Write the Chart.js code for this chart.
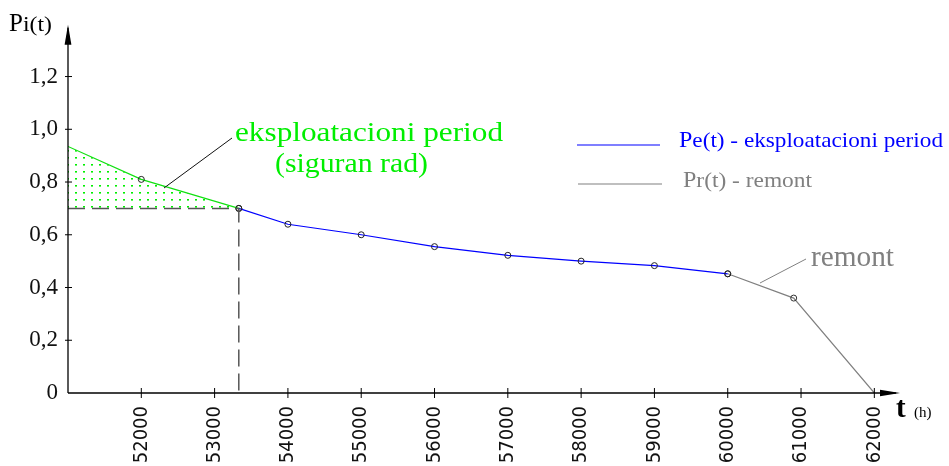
<!doctype html>
<html>

<head>
    <title>Pi(t)</title>
    <script src="https://cdn.jsdelivr.net/npm/chart.js"></script>
    <style>
        body { margin: 0; background: #fff; }
    </style>
</head>

<body>
    <canvas id="grafik" width="949" height="466"></canvas>

    <script>
        // vrijednosti ocitane sa slike
        const xTicks = [52000, 53000, 54000, 55000, 56000, 57000, 58000, 59000, 60000, 61000, 62000]
        const yTicks = [0, 0.2, 0.4, 0.6, 0.8, 1.0, 1.2]
        const yTickLabels = ['0', '0,2', '0,4', '0,6', '0,8', '1,0', '1,2']

        // eksploatacioni period (siguran rad)
        const sigurnoT = [51000, 52000, 53330]
        const sigurnoP = [0.935, 0.81, 0.70]

        // Pe(t) - eksploatacioni period
        const eksT = [53330, 54000, 55000, 56000, 57000, 58000, 59000, 60000]
        const eksP = [0.70, 0.64, 0.60, 0.555, 0.522, 0.50, 0.483, 0.452]

        // Pr(t) - remont
        const remT = [60000, 60900, 62000]
        const remP = [0.452, 0.36, 0]

        // granica sigurnog rada
        const granicaT = [51000, 53330, 53330]
        const granicaP = [0.70, 0.70, 0]

        const serif = "'Liberation Serif', 'Times New Roman', serif"

        function tacke(t, p) {
            return t.map((v, i) => ({ x: v, y: p[i] }))
        }

        // tackasta zelena ispuna
        const sablon = document.createElement('canvas')
        sablon.width = 8
        sablon.height = 7
        const sctx = sablon.getContext('2d')
        sctx.fillStyle = '#00f000'
        sctx.fillRect(3, 3, 2, 1.6)
        const zelenaIspuna = sctx.createPattern(sablon, 'repeat')

        // tekst razvucen na zadanu sirinu (kao u CAD crtezu)
        function tekst(ctx, s, x, y, size, color, width, bold) {
            ctx.save()
            ctx.font = (bold ? 'bold ' : '') + size + 'px ' + serif
            ctx.fillStyle = color
            ctx.textAlign = 'left'
            ctx.textBaseline = 'alphabetic'
            const w = ctx.measureText(s).width
            const sx = width ? width / w : 1
            ctx.translate(x, y)
            ctx.scale(sx, 1)
            ctx.fillText(s, 0, 0)
            ctx.restore()
            return w * sx
        }

        function linija(ctx, x1, y1, x2, y2, color, w) {
            ctx.beginPath()
            ctx.moveTo(x1, y1)
            ctx.lineTo(x2, y2)
            ctx.strokeStyle = color
            ctx.lineWidth = w
            ctx.stroke()
        }

        const osePlugin = {
            id: 'osePlugin',
            afterDatasetsDraw(chart) {
                const { ctx, chartArea: { top, bottom, left, right }, scales: { x, y } } = chart
                ctx.save()

                // ose
                linija(ctx, left, bottom, right - 4, bottom, '#000', 1.3)
                linija(ctx, left, bottom, left, top + 4, '#000', 1.3)

                // strelice
                ctx.fillStyle = '#000'
                ctx.beginPath()
                ctx.moveTo(right, bottom)
                ctx.lineTo(right - 20, bottom - 3.2)
                ctx.lineTo(right - 20, bottom + 3.2)
                ctx.closePath()
                ctx.fill()
                ctx.beginPath()
                ctx.moveTo(left, top + 1)
                ctx.lineTo(left - 3.4, top + 21)
                ctx.lineTo(left + 3.4, top + 21)
                ctx.closePath()
                ctx.fill()

                // crtice
                xTicks.forEach(v => {
                    const px = x.getPixelForValue(v)
                    linija(ctx, px, bottom - 5, px, bottom + 5, '#000', 1)
                })
                yTicks.forEach(v => {
                    if (v === 0) return
                    const py = y.getPixelForValue(v)
                    linija(ctx, left - 3, py, left + 4, py, '#000', 1)
                })

                // naziv y ose
                let px = 9
                px += tekst(ctx, 'P', px, 31, 25, '#000')
                tekst(ctx, 'i(t)', px, 31, 21, '#000', 29)

                // naziv x ose
                tekst(ctx, 't', 896, 417, 29, '#000', 0, true)
                tekst(ctx, '(h)', 914, 417, 15, '#000')

                // legenda
                linija(ctx, 577, 145, 660, 145, '#0000ff', 1.2)
                px = 679
                px += tekst(ctx, 'P', px, 147, 24, '#0000ff')
                tekst(ctx, 'e(t) - eksploatacioni period', px, 147, 22, '#0000ff', 943 - px)

                linija(ctx, 578, 184, 662, 184, '#808080', 1.2)
                px = 683
                px += tekst(ctx, 'P', px, 187, 24, '#808080')
                tekst(ctx, 'r(t) - remont', px, 187, 21, '#808080', 812 - px)

                // natpisi
                linija(ctx, 164, 188, 232, 138, '#111', 1)
                tekst(ctx, 'eksploatacioni period', 235, 141, 28, '#00ee00', 268)
                tekst(ctx, '(siguran rad)', 275, 172, 28, '#00ee00', 153)

                linija(ctx, 760, 283, 806, 259, '#808080', 1)
                tekst(ctx, 'remont', 811, 266, 29, '#808080', 83)

                ctx.restore()
            }
        }

        const grafik = new Chart(document.getElementById('grafik').getContext('2d'), {
            type: 'line',
            data: {
                datasets: [
                    {
                        label: 'granica',
                        data: tacke(granicaT, granicaP),
                        borderColor: '#555',
                        borderWidth: 1.5,
                        borderDash: [17, 7],
                        pointRadius: 0,
                        fill: false
                    },
                    {
                        label: 'siguran rad',
                        data: tacke(sigurnoT, sigurnoP),
                        borderColor: '#11e011',
                        borderWidth: 1.2,
                        backgroundColor: zelenaIspuna,
                        fill: { value: 0.70 },
                        pointRadius: [0, 3, 3],
                        pointBorderColor: '#222',
                        pointBackgroundColor: 'rgba(0,0,0,0)',
                        pointBorderWidth: 1
                    },
                    {
                        label: 'Pe(t)',
                        data: tacke(eksT, eksP),
                        borderColor: '#0000ff',
                        borderWidth: 1.2,
                        fill: false,
                        pointRadius: 3,
                        pointBorderColor: '#222',
                        pointBackgroundColor: 'rgba(0,0,0,0)',
                        pointBorderWidth: 1
                    },
                    {
                        label: 'Pr(t)',
                        data: tacke(remT, remP),
                        borderColor: '#808080',
                        borderWidth: 1.2,
                        fill: false,
                        pointRadius: [3, 3, 0],
                        pointBorderColor: '#333',
                        pointBackgroundColor: 'rgba(0,0,0,0)',
                        pointBorderWidth: 1
                    }
                ]
            },
            options: {
                responsive: false,
                animation: false,
                events: [],
                layout: { padding: { left: 0, top: 14, right: 49, bottom: 0 } },
                plugins: {
                    legend: { display: false },
                    tooltip: { enabled: false }
                },
                scales: {
                    x: {
                        type: 'linear',
                        min: 51000,
                        max: 62350,
                        grid: { display: false, drawTicks: false },
                        border: { display: false },
                        afterBuildTicks(scale) {
                            scale.ticks = xTicks.map(v => ({ value: v }))
                        },
                        afterFit(scale) {
                            scale.height = 73
                        },
                        ticks: {
                            autoSkip: false,
                            minRotation: 90,
                            maxRotation: 90,
                            padding: 13,
                            color: '#111',
                            font: { family: "'DejaVu Sans Condensed', 'Liberation Sans', sans-serif", size: 20 },
                            callback: v => String(v)
                        }
                    },
                    y: {
                        min: 0,
                        max: 1.4,
                        grid: { display: false, drawTicks: false },
                        border: { display: false },
                        afterBuildTicks(scale) {
                            scale.ticks = yTicks.map(v => ({ value: v }))
                        },
                        afterFit(scale) {
                            scale.width = 68
                        },
                        ticks: {
                            padding: 10,
                            color: '#111',
                            font: { family: serif, size: 23 },
                            callback: (v, i) => yTickLabels[yTicks.indexOf(v)]
                        }
                    }
                }
            },
            plugins: [osePlugin]
        });
    </script>
</body>

</html>
